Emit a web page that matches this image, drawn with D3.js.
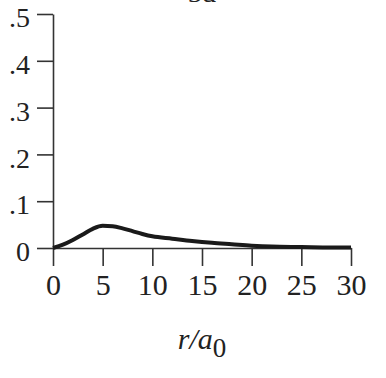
<!DOCTYPE html>
<html>
<head>
<meta charset="utf-8">
<script src="https://cdn.jsdelivr.net/npm/d3@7"></script>
<style>
  body { margin: 0; background: #fff; }
  svg { display: block; }
  .axis path, .axis line { stroke: #333; stroke-width: 1.6px; }
  .axis text { font-family: "Liberation Serif", "Times New Roman", serif; fill: #222; }
</style>
</head>
<body>
<div id="chart"></div>
<script>
// radial probability
const rValues = [0, 1, 2, 3, 4, 5, 6, 7, 8, 9, 10, 12, 14, 16, 18, 20, 22, 25, 28, 30];
const pValues = [0, 0.007, 0.017, 0.029, 0.041, 0.0475, 0.0465, 0.042, 0.036, 0.030, 0.025, 0.020, 0.015, 0.011, 0.008, 0.005, 0.003, 0.002, 0.001, 0.001];
const xTicks = [0, 5, 10, 15, 20, 25, 30];
const yTicks = [0, 0.1, 0.2, 0.3, 0.4, 0.5];
const yTickLabels = ["0", ".1", ".2", ".3", ".4", ".5"];
const titleText = "3d";

const width = 386, height = 378;
const margins = { top: 14, right: 35, bottom: 130, left: 53 };

const svg = d3.select("#chart").append("svg")
  .attr("width", width)
  .attr("height", height);

const x = d3.scaleLinear().domain([0, 30]).range([margins.left, width - margins.right]);
const y = d3.scaleLinear().domain([0, 0.5]).range([height - margins.bottom, margins.top]);

// title, cut off at the top edge like in the original
svg.append("text")
  .attr("x", (x(0) + x(30)) / 2)
  .attr("y", 1.5)
  .attr("text-anchor", "middle")
  .style("font-family", "Liberation Serif, serif")
  .style("font-size", "28px")
  .style("fill", "#222")
  .text(titleText);

const xAxis = svg.append("g")
  .attr("class", "axis")
  .attr("transform", `translate(0,${y(0)})`)
  .call(d3.axisBottom(x).tickValues(xTicks).tickSize(18).tickPadding(8).tickSizeOuter(0));
xAxis.selectAll("text").style("font-size", "30px");

const yAxis = svg.append("g")
  .attr("class", "axis")
  .attr("transform", `translate(${x(0)},0)`)
  .call(d3.axisLeft(y).tickValues(yTicks).tickSize(16).tickPadding(7).tickSizeOuter(0)
    .tickFormat((d, i) => yTickLabels[i]));
yAxis.selectAll("text").style("font-size", "28px").attr("dy", "0.45em");

// the curve
const line = d3.line()
  .x((d, i) => x(rValues[i]))
  .y(d => y(d))
  .curve(d3.curveMonotoneX);

svg.append("path")
  .datum(pValues)
  .attr("fill", "none")
  .attr("stroke", "#1a1a1a")
  .attr("stroke-width", 4)
  .attr("stroke-linejoin", "round")
  .attr("d", line);

// axis label r/a0
const label = svg.append("text")
  .attr("x", (x(0) + x(30)) / 2)
  .attr("y", 349)
  .attr("text-anchor", "middle")
  .style("font-family", "Liberation Serif, serif")
  .style("font-size", "30px")
  .style("fill", "#222");
label.append("tspan").style("font-style", "italic").text("r/a");
label.append("tspan").attr("dy", 8).style("font-size", "27px").text("0");
</script>
</body>
</html>
